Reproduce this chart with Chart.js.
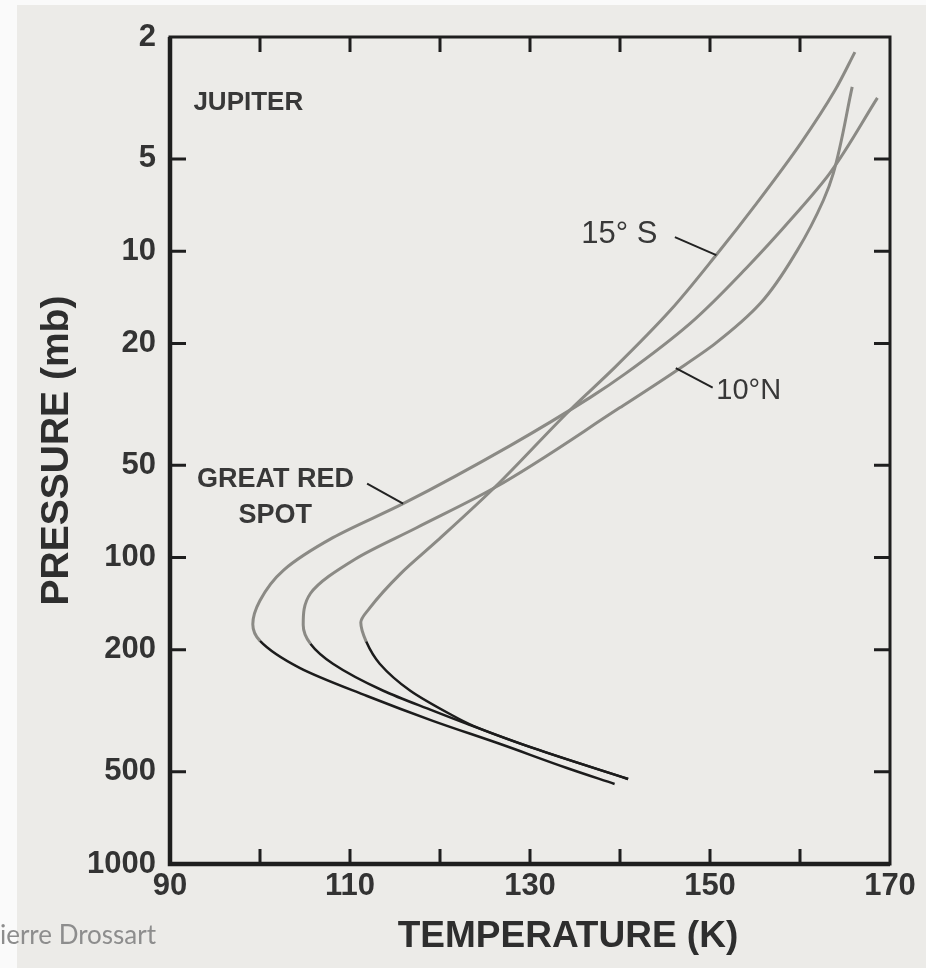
<!DOCTYPE html>
<html>
<head>
<meta charset="utf-8">
<title>Jupiter temperature profiles</title>
<script src="https://cdn.jsdelivr.net/npm/chart.js@4.4.1/dist/chart.umd.min.js"></script>
<style>
  html, body { margin: 0; padding: 0; background: #ecebe8; }
  #wrap { position: relative; width: 926px; height: 968px; }
</style>
</head>
<body>
<div id="wrap"><canvas id="profileChart"></canvas></div>
<script>
// temperature (K) against pressure (mb), top to bottom
const grsTemp = [168.6, 163.3, 159.2, 154.1, 147.8, 140.6, 136.7, 127.8, 115.9, 108.1, 102.6, 100.0, 99.2, 100.0, 104.4, 111.9, 119.2, 126.7, 134.1, 139.4];
const grsPressure = [3.16, 5.57, 7.75, 11.3, 17.2, 25.1, 30.0, 43.1, 66.7, 86.1, 110, 138, 165, 187, 229, 283, 341, 406, 486, 548];

const south15Temp = [166.1, 163.9, 160.1, 155.2, 150.8, 145.6, 139.4, 134.4, 126.0, 119.7, 115.6, 112.2, 111.2, 111.8, 113.3, 116.7, 121.1, 123.7, 130.3, 140.9];
const south15Pressure = [2.24, 2.98, 4.44, 6.97, 10.2, 15.6, 24.0, 33.1, 59.3, 88.1, 113, 146, 163, 188, 222, 272, 324, 354, 418, 528];

const north10Temp = [165.8, 163.7, 162.6, 159.7, 155.6, 150.6, 146.3, 140.0, 126.0, 117.4, 110.6, 105.6, 104.8, 105.6, 108.1, 113.7, 119.2, 123.0, 130.3, 140.9];
const north10Pressure = [2.91, 5.57, 6.82, 9.94, 14.8, 20.0, 24.5, 32.4, 59.3, 79.9, 101, 131, 166, 191, 222, 272, 316, 349, 418, 528];

const pressureTicks = [2, 5, 10, 20, 50, 100, 200, 500, 1000];
const tempTicks = [90, 100, 110, 120, 130, 140, 150, 160, 170];
const tempLabels = [90, 110, 130, 150, 170];

const FONT = '"Liberation Sans", Arial, sans-serif';
const GREY = '#8b8a85';
const INK = '#1c1c1c';

// labels written on the plot, placed in data units (K, mb)
const notes = [
  { text: 'JUPITER', t: 92.6, p: 3.46, font: 'bold 26px ' + FONT },
  { text: '15° S', t: 135.7, p: 9.42, font: '31px ' + FONT },
  { text: '10°N', t: 150.7, p: 30.3, font: '29px ' + FONT },
  { text: 'GREAT RED', t: 93.0, p: 58.7, font: 'bold 27px ' + FONT },
  { text: 'SPOT', t: 97.6, p: 76.9, font: 'bold 27px ' + FONT }
];
const leaders = [
  [[146.1, 9.0], [150.7, 10.3]],
  [[146.2, 24.1], [150.3, 27.9]],
  [[111.9, 57.4], [115.9, 66.7]]
];

const toPoints = (temps, pressures) => temps.map((t, i) => ({ x: t, y: pressures[i] }));

// upper part of each profile is grey in the scan, the deep part black
const isDeep = ctx => ctx.p0.parsed.y >= 185;
const profile = (label, temps, pressures) => ({
  label: label,
  data: toPoints(temps, pressures),
  fill: false,
  pointRadius: 0,
  cubicInterpolationMode: 'monotone',
  borderColor: GREY,
  borderWidth: 3,
  segment: {
    borderColor: ctx => isDeep(ctx) ? INK : GREY,
    borderWidth: ctx => isDeep(ctx) ? 2.5 : 3
  }
});

const paper = {
  id: 'paper',
  beforeDraw(chart) {
    const c = chart.ctx;
    c.save();
    c.fillStyle = '#ecebe8';
    c.fillRect(0, 0, chart.width, chart.height);
    c.fillStyle = '#fafafa';
    c.fillRect(0, 0, 17, chart.height);
    c.fillRect(0, 0, chart.width, 5);
    c.restore();
  }
};

const frame = {
  id: 'frame',
  afterDraw(chart) {
    const { ctx, chartArea: a, scales: { x, y } } = chart;
    ctx.save();
    ctx.strokeStyle = '#1e1e1e';

    // tick marks point inwards on all four sides
    ctx.lineWidth = 3;
    ctx.beginPath();
    tempTicks.slice(1, -1).forEach(t => {
      const px = x.getPixelForValue(t);
      ctx.moveTo(px, a.bottom); ctx.lineTo(px, a.bottom - 15);
      ctx.moveTo(px, a.top); ctx.lineTo(px, a.top + 15);
    });
    pressureTicks.slice(1, -1).forEach(p => {
      const py = y.getPixelForValue(p);
      ctx.moveTo(a.left, py); ctx.lineTo(a.left + 16, py);
      ctx.moveTo(a.right, py); ctx.lineTo(a.right - 16, py);
    });
    ctx.stroke();

    ctx.strokeRect(a.left, a.top, a.right - a.left, a.bottom - a.top);
    ctx.lineWidth = 4.5;
    ctx.beginPath();
    ctx.moveTo(a.left, a.top);
    ctx.lineTo(a.left, a.bottom);
    ctx.lineTo(a.right, a.bottom);
    ctx.stroke();

    // leader lines and labels
    ctx.lineWidth = 2;
    ctx.strokeStyle = '#222';
    leaders.forEach(([p0, p1]) => {
      ctx.beginPath();
      ctx.moveTo(x.getPixelForValue(p0[0]), y.getPixelForValue(p0[1]));
      ctx.lineTo(x.getPixelForValue(p1[0]), y.getPixelForValue(p1[1]));
      ctx.stroke();
    });
    ctx.fillStyle = '#383838';
    ctx.textAlign = 'left';
    ctx.textBaseline = 'alphabetic';
    notes.forEach(n => {
      ctx.font = n.font;
      ctx.fillText(n.text, x.getPixelForValue(n.t), y.getPixelForValue(n.p));
    });

    // x axis title sits right of centre in the original
    ctx.font = 'bold 37px ' + FONT;
    ctx.fillStyle = '#2e2e2e';
    ctx.fillText('TEMPERATURE (K)', x.getPixelForValue(115.3), a.bottom + 83);

    // credit cropped by the left edge of the picture
    ctx.font = '26px Lato, "Open Sans", sans-serif';
    ctx.fillStyle = '#8d8d8d';
    ctx.fillText('Pierre Drossart', -ctx.measureText('P').width, 944);
    ctx.restore();
  }
};

const ctx = document.getElementById('profileChart').getContext('2d');
const profileChart = new Chart(ctx, {
  type: 'line',
  data: {
    datasets: [
      profile('Great Red Spot', grsTemp, grsPressure),
      profile('15° S', south15Temp, south15Pressure),
      profile('10° N', north10Temp, north10Pressure)
    ]
  },
  options: {
    indexAxis: 'y',
    responsive: true,
    maintainAspectRatio: false,
    animation: false,
    devicePixelRatio: 1,
    layout: { padding: { top: 37, right: 36, bottom: 0, left: 0 } },
    plugins: {
      legend: { display: false },
      tooltip: { enabled: false }
    },
    scales: {
      x: {
        type: 'linear',
        position: 'bottom',
        min: 90,
        max: 170,
        grid: { display: false, drawTicks: false },
        border: { display: false },
        afterBuildTicks: scale => { scale.ticks = tempTicks.map(v => ({ value: v })); },
        afterFit: scale => { scale.height = 104; },
        ticks: {
          autoSkip: false,
          maxRotation: 0,
          padding: 4,
          color: '#333',
          font: { family: FONT, size: 31, weight: 'bold' },
          callback: v => tempLabels.includes(v) ? String(v) : ''
        }
      },
      y: {
        type: 'logarithmic',
        position: 'left',
        reverse: true,
        min: 2,
        max: 1000,
        grid: { display: false, drawTicks: false },
        border: { display: false },
        afterBuildTicks: scale => { scale.ticks = pressureTicks.map(v => ({ value: v })); },
        afterFit: scale => { scale.width = 170; },
        ticks: {
          autoSkip: false,
          padding: 14,
          color: '#333',
          font: { family: FONT, size: 31, weight: 'bold' },
          callback: v => String(v)
        },
        title: {
          display: true,
          text: 'PRESSURE (mb)',
          color: '#2e2e2e',
          font: { family: FONT, size: 39, weight: 'bold' },
          padding: { top: 34, bottom: 0 }
        }
      }
    }
  },
  plugins: [paper, frame]
});
</script>
</body>
</html>
